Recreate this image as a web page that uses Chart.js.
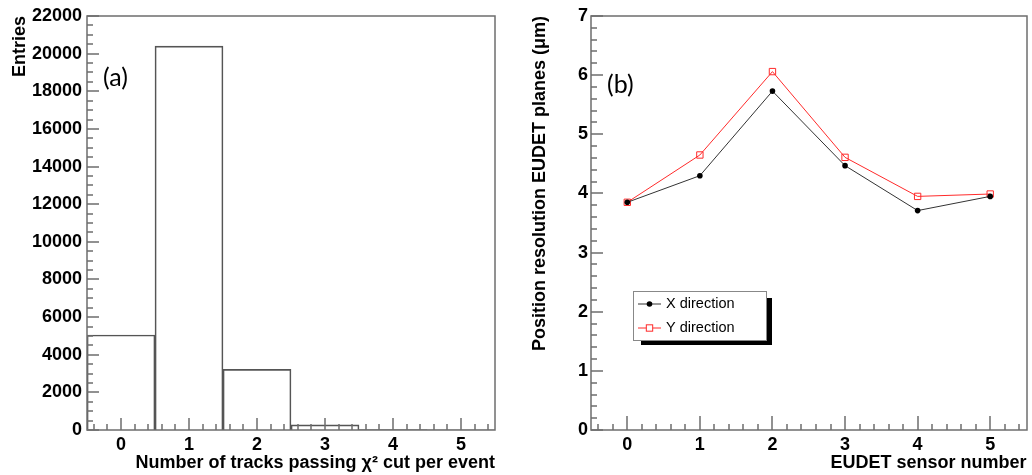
<!DOCTYPE html>
<html>
<head>
<meta charset="utf-8">
<script src="https://cdn.jsdelivr.net/npm/chart.js@4.4.1/dist/chart.umd.min.js"></script>
<style>
  body { margin: 0; background: #fff; }
  .panel { position: absolute; top: 0; width: 516px; height: 475px; }
</style>
</head>
<body>
<div class="panel" style="left:0"><canvas id="tracksChart" width="516" height="475"></canvas></div>
<div class="panel" style="left:516px"><canvas id="resChart" width="516" height="475"></canvas></div>
<script>
// (a) histogram: number of tracks passing the chi2 cut per event
const trackBins = [0, 1, 2, 3, 4, 5];
const trackEntries = [5050, 20400, 3220, 270, 25, 4];
const entriesTicks = [0, 2000, 4000, 6000, 8000, 10000, 12000, 14000, 16000, 18000, 20000, 22000];

// (b) position resolution of the EUDET planes (um)
const sensorIds = [0, 1, 2, 3, 4, 5];
const resX = [3.85, 4.30, 5.73, 4.47, 3.71, 3.95];
const resY = [3.85, 4.65, 6.06, 4.61, 3.95, 3.99];
const resTicks = [0, 1, 2, 3, 4, 5, 6, 7];

Chart.defaults.font.family = "'Liberation Sans', Arial, Helvetica, sans-serif";
Chart.defaults.color = '#000';

const axisFont = { size: 18, weight: 'bold' };
const frameColor = '#6e6e6e';

// ROOT-like frame: box around the plot with inward major/minor ticks
function frameTicks(cfg) {
    return {
        id: 'frameTicks',
        afterDatasetsDraw(chart) {
            const { ctx, chartArea: a } = chart;
            const x = chart.scales.x, y = chart.scales.y;
            const isMajor = (scale, v, step) => scale.ticks.some(t => Math.abs(t.value - v) < step / 10);
            ctx.save();
            ctx.strokeStyle = frameColor;
            ctx.lineWidth = 1.5;
            ctx.beginPath();

            // bottom axis
            const x0 = Math.ceil(x.min / cfg.xStep - 1e-6), x1 = Math.floor(x.max / cfg.xStep + 1e-6);
            for (let i = x0; i <= x1; i++) {
                const v = i * cfg.xStep;
                const px = Math.round(x.getPixelForValue(v));
                const len = isMajor(x, v, cfg.xStep) ? cfg.xMajor : cfg.minorLen;
                ctx.moveTo(px, a.bottom);
                ctx.lineTo(px, a.bottom - len);
            }
            // left axis
            const y0 = Math.ceil(y.min / cfg.yStep - 1e-6), y1 = Math.floor(y.max / cfg.yStep + 1e-6);
            for (let i = y0; i <= y1; i++) {
                const v = i * cfg.yStep;
                const py = Math.round(y.getPixelForValue(v));
                const len = isMajor(y, v, cfg.yStep) ? cfg.yMajor : cfg.minorLen;
                ctx.moveTo(a.left, py);
                ctx.lineTo(a.left + len, py);
            }
            ctx.stroke();
            ctx.strokeRect(Math.round(a.left), Math.round(a.top), Math.round(a.right - a.left), Math.round(a.bottom - a.top));

            // panel tag
            ctx.fillStyle = '#000';
            ctx.font = '25px Lato, "Open Sans", sans-serif';
            ctx.textBaseline = 'middle';
            ctx.fillText(cfg.tag, a.left + cfg.tagDx, a.top + cfg.tagDy);
            ctx.restore();
        }
    };
}

// legend box with drop shadow, drawn inside the plot area
function boxLegend(cfg) {
    return {
        id: 'boxLegend',
        afterDraw(chart) {
            const { ctx, chartArea: a } = chart;
            const bx = a.left + cfg.dx, by = a.top + cfg.dy;
            ctx.save();
            ctx.fillStyle = '#000';
            ctx.fillRect(bx + 8, by + 7, cfg.w - 2, cfg.h - 2);
            ctx.fillStyle = '#fff';
            ctx.fillRect(bx, by, cfg.w, cfg.h);
            ctx.strokeStyle = '#888';
            ctx.lineWidth = 1;
            ctx.strokeRect(bx + 0.5, by + 0.5, cfg.w, cfg.h);

            ctx.font = '14.5px "Liberation Sans", Arial, sans-serif';
            ctx.textBaseline = 'middle';
            chart.data.datasets.forEach((ds, i) => {
                const cy = by + 13 + i * 24;
                const lx0 = bx + 5, lx1 = bx + 28, cx = (lx0 + lx1) / 2;
                ctx.strokeStyle = ds.borderColor;
                ctx.beginPath();
                ctx.moveTo(lx0, cy);
                ctx.lineTo(lx1, cy);
                ctx.stroke();
                ctx.strokeStyle = ds.pointBorderColor;
                if (ds.pointStyle === 'rect') {
                    const s = ds.pointRadius * Math.SQRT1_2;
                    ctx.fillStyle = '#fff';
                    ctx.fillRect(cx - s, cy - s, 2 * s, 2 * s);
                    ctx.strokeRect(cx - s, cy - s, 2 * s, 2 * s);
                } else {
                    ctx.fillStyle = ds.pointBackgroundColor;
                    ctx.beginPath();
                    ctx.arc(cx, cy, ds.pointRadius, 0, Math.PI * 2);
                    ctx.fill();
                }
                ctx.fillStyle = '#000';
                ctx.fillText(ds.label, bx + 33, cy);
            });
            ctx.restore();
        }
    };
}

function baseScales(xTitle, yTitle, yMin, yMax, yTickValues, yWidth, yPad, yTitlePad) {
    return {
        x: {
            type: 'linear', min: -0.5, max: 5.5, offset: false,
            afterBuildTicks: s => { s.ticks = sensorIds.map(v => ({ value: v })); },
            afterFit: s => { s.height = 45; },
            grid: { display: false, drawTicks: false },
            border: { display: false },
            ticks: { font: axisFont, padding: 4, maxRotation: 0, callback: v => String(v) },
            title: { display: true, text: xTitle, align: 'end', font: axisFont, padding: { top: 0, bottom: 1 } }
        },
        y: {
            type: 'linear', min: yMin, max: yMax,
            afterBuildTicks: s => { s.ticks = yTickValues.map(v => ({ value: v })); },
            afterFit: s => { s.width = yWidth; },
            grid: { display: false, drawTicks: false },
            border: { display: false },
            ticks: { font: axisFont, padding: yPad, callback: v => String(v) },
            title: { display: true, text: yTitle, align: 'end', font: axisFont, padding: { top: yTitlePad, bottom: 0 } }
        }
    };
}

new Chart(document.getElementById('tracksChart'), {
    type: 'bar',
    data: {
        datasets: [{
            label: 'Entries',
            data: trackBins.map((b, i) => ({ x: b, y: trackEntries[i] })),
            backgroundColor: 'rgba(0,0,0,0)',
            borderColor: '#555',
            borderWidth: 1,
            barPercentage: 1,
            categoryPercentage: 1
        }]
    },
    options: {
        responsive: false,
        animation: false,
        layout: { padding: { top: 16, right: 21, left: 0, bottom: 0 } },
        scales: baseScales('Number of tracks passing \u03c7\u00b2 cut per event', 'Entries', 0, 22000, entriesTicks, 87, 5, 9),
        plugins: { legend: { display: false }, tooltip: { enabled: false } }
    },
    plugins: [frameTicks({ xStep: 0.2, yStep: 500, xMajor: 12, yMajor: 12, minorLen: 6, tag: '(a)', tagDx: 16, tagDy: 62 })]
});

new Chart(document.getElementById('resChart'), {
    type: 'line',
    data: {
        datasets: [{
            label: 'X direction',
            data: sensorIds.map((s, i) => ({ x: s, y: resX[i] })),
            borderColor: '#333',
            borderWidth: 1,
            pointStyle: 'circle',
            pointRadius: 2.8,
            pointBackgroundColor: '#000',
            pointBorderColor: '#000',
            pointBorderWidth: 0
        }, {
            label: 'Y direction',
            data: sensorIds.map((s, i) => ({ x: s, y: resY[i] })),
            borderColor: '#ff2a2a',
            borderWidth: 1,
            pointStyle: 'rect',
            pointRadius: 4.5,
            pointBackgroundColor: 'rgba(255,255,255,0)',
            pointBorderColor: '#ff2a2a',
            pointBorderWidth: 1
        }]
    },
    options: {
        responsive: false,
        animation: false,
        layout: { padding: { top: 16, right: 1, left: 0, bottom: 0 } },
        scales: baseScales('EUDET sensor number', 'Position resolution EUDET planes (\u03bcm)', 0, 7, resTicks, 75, 3, 13),
        plugins: { legend: { display: false }, tooltip: { enabled: false } }
    },
    plugins: [
        frameTicks({ xStep: 0.2, yStep: 0.2, xMajor: 14, yMajor: 12, minorLen: 6, tag: '(b)', tagDx: 16, tagDy: 69 }),
        boxLegend({ dx: 42, dy: 275, w: 133, h: 49 })
    ]
});
</script>
</body>
</html>
